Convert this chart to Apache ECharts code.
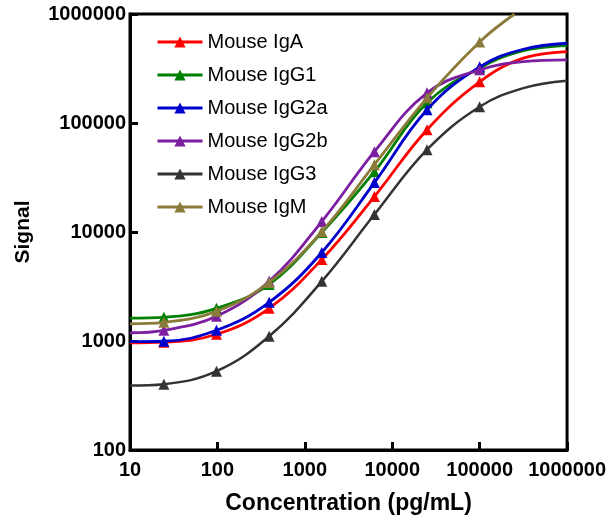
<!DOCTYPE html>
<html><head><meta charset="utf-8">
<script src="https://cdn.jsdelivr.net/npm/echarts@6/dist/echarts.min.js"></script>
<style>html,body{margin:0;padding:0;background:#fff}#c{width:609px;height:520px}</style>
</head><body><div id="c"></div>
<script>
// Concentrations (pg/mL) of the measured standards
const concentrations = [24.4, 97.7, 390.6, 1562.5, 6250, 25000, 100000];
// Fitted-curve read points outside the standards (left end, right shoulder, right end)
const curveLeftX = 10;
const curveShoulderX = 316228;
const curveRightX = 1000000;

const seriesNames = ['Mouse IgA', 'Mouse IgG1', 'Mouse IgG2a', 'Mouse IgG2b', 'Mouse IgG3', 'Mouse IgM'];

// Marker values
const igA   = [975, 1153, 1995, 5600, 21130, 86750, 238600];
const igG1  = [1648, 1995, 3304, 9890, 35790, 153200, 320000];
const igG2a = [995, 1254, 2264, 6490, 28390, 132200, 327300];
const igG2b = [1254, 1686, 3524, 12480, 54550, 189200, 307200];
const igG3  = [402, 529, 1105, 3524, 14450, 56910, 140900];
const igM   = [1485, 1872, 3450, 10100, 41480, 170300, 554400];

// Curve values read at the left edge, shoulder and right edge
const igACurve   = [960, 393300, 451600];
const igG1Curve  = [1620, 461500, 512500];
const igG2aCurve = [985, 475000, 539300];
const igG2bCurve = [1190, 365900, 379300];
const igG3Curve  = [390, 208900, 243600];
// IgM leaves the plot through the top border
const igMCurveLeft = 1440;
const igMCurveExit = [251000, 1000000];

const xTickLabels = ['10', '100', '1000', '10000', '100000', '1000000'];
const yTickLabels = ['100', '1000', '10000', '100000', '1000000'];

const colors = ['#ff0000', '#008000', '#0000cc', '#7b1fa0', '#333333', '#8b7b3b'];

function buildData(vals, curve) {
  const d = [{ value: [curveLeftX, curve[0]], symbol: 'none' }];
  vals.forEach((v, i) => d.push([concentrations[i], v]));
  d.push({ value: [curveShoulderX, curve[1]], symbol: 'none' });
  d.push({ value: [curveRightX, curve[2]], symbol: 'none' });
  return d;
}
function buildIgM() {
  const d = [{ value: [curveLeftX, igMCurveLeft], symbol: 'none' }];
  igM.forEach((v, i) => d.push([concentrations[i], v]));
  d.push({ value: igMCurveExit, symbol: 'none' });
  return d;
}

const datasets = [
  buildData(igA, igACurve),
  buildData(igG1, igG1Curve),
  buildData(igG2a, igG2aCurve),
  buildData(igG2b, igG2bCurve),
  buildData(igG3, igG3Curve),
  buildIgM()
];

const font = 'Arial, "Liberation Sans", sans-serif';
const chart = echarts.init(document.getElementById('c'), null, { renderer: 'canvas' });

function tickLabel(labels, v) {
  const i = Math.round(Math.log10(v)) - Math.round(Math.log10(Number(labels[0])));
  return labels[i] !== undefined ? labels[i] : '';
}

chart.setOption({
  animation: false,
  backgroundColor: '#ffffff',
  color: colors,
  grid: {
    left: 130, right: 41, top: 14, bottom: 69,
    show: true, borderColor: '#000', borderWidth: 3, backgroundColor: 'transparent'
  },
  legend: {
    orient: 'vertical',
    left: 156, top: 32, padding: 0,
    itemWidth: 45, itemHeight: 14, itemGap: 13,
    lineStyle: { width: 3 },
    textStyle: { fontFamily: font, fontSize: 20, color: '#000', lineHeight: 20 },
    data: seriesNames
  },
  xAxis: {
    type: 'log', logBase: 10, min: 10, max: 1000000,
    name: 'Concentration (pg/mL)', nameLocation: 'middle', nameGap: 42,
    nameTextStyle: { fontFamily: font, fontSize: 23, fontWeight: 'bold', color: '#000' },
    axisLine: { show: true, lineStyle: { color: '#000', width: 3 } },
    axisTick: { show: true, inside: true, length: 8, lineStyle: { color: '#000', width: 3 } },
    minorTick: { show: false },
    splitLine: { show: false },
    axisLabel: { fontFamily: font, fontSize: 20, fontWeight: 'bold', color: '#000', margin: 10,
      formatter: v => tickLabel(xTickLabels, v) }
  },
  yAxis: {
    type: 'log', logBase: 10, min: 100, max: 1000000,
    name: 'Signal', nameLocation: 'middle', nameGap: 96, nameRotate: 90,
    nameTextStyle: { fontFamily: font, fontSize: 21, fontWeight: 'bold', color: '#000' },
    axisLine: { show: true, lineStyle: { color: '#000', width: 3 } },
    axisTick: { show: true, inside: true, length: 8, lineStyle: { color: '#000', width: 3 } },
    splitLine: { show: false },
    axisLabel: { fontFamily: font, fontSize: 20, fontWeight: 'bold', color: '#000', margin: 4,
      formatter: v => tickLabel(yTickLabels, v) }
  },
  series: seriesNames.map((name, i) => ({
    name: name,
    type: 'line',
    data: datasets[i],
    smooth: 0.4,
    symbol: 'triangle',
    symbolSize: 11,
    clip: true,
    lineStyle: { width: i === 4 ? 2.5 : 2.8, color: colors[i] },
    itemStyle: { color: colors[i] },
    z: 2 + i
  }))
});
</script></body></html>
